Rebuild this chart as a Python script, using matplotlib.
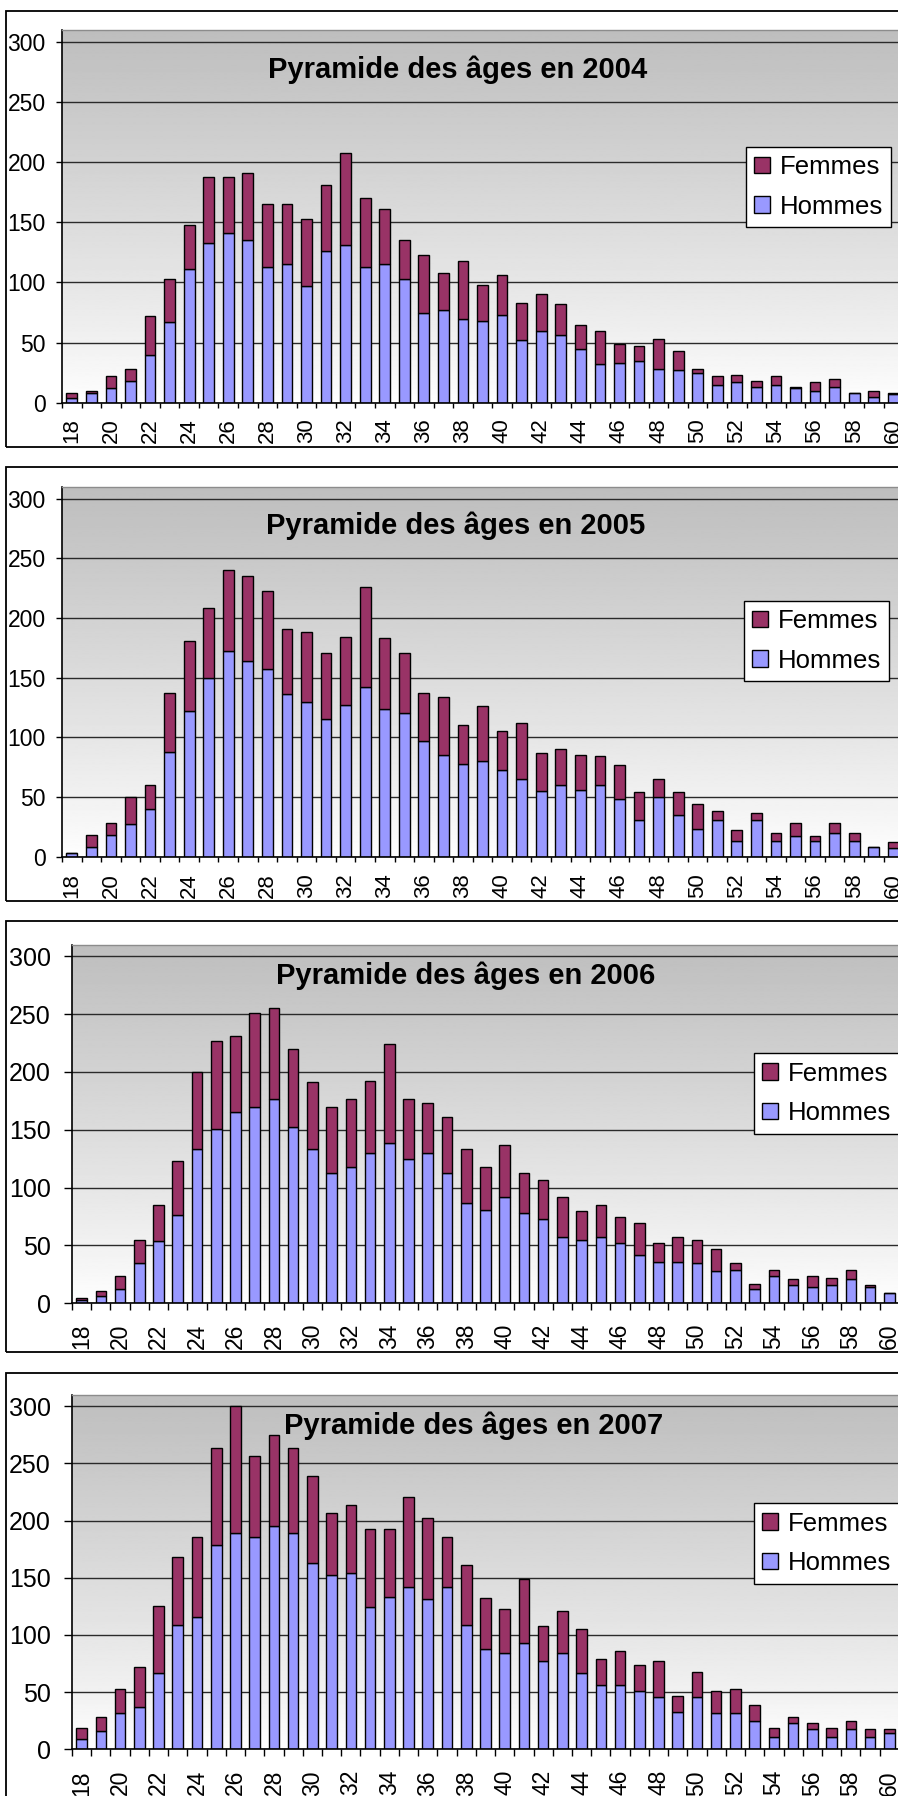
import matplotlib
matplotlib.use('Agg')
import matplotlib.pyplot as plt
import numpy as np
from matplotlib.patches import Rectangle

# ---------------- data ----------------
ages = list(range(18, 61))

hommes_2004 = [4, 8, 12, 18, 40, 67, 111, 133, 141, 135, 113, 115, 97, 126, 131,
               113, 115, 103, 75, 77, 70, 68, 73, 52, 60, 56, 45, 32, 33, 35,
               28, 27, 25, 15, 17, 13, 15, 12, 10, 13, 8, 5, 7]
femmes_2004 = [4, 2, 10, 10, 32, 36, 37, 55, 47, 56, 52, 50, 56, 55, 77,
               57, 46, 32, 48, 31, 48, 30, 33, 31, 30, 26, 20, 28, 16, 12,
               25, 16, 3, 7, 6, 5, 7, 1, 7, 7, 0, 5, 1]

hommes_2005 = [3, 8, 18, 27, 40, 88, 122, 150, 172, 164, 157, 136, 130, 115, 127,
               142, 124, 120, 97, 85, 78, 80, 73, 65, 55, 60, 56, 60, 48, 31,
               50, 35, 23, 31, 13, 31, 13, 17, 13, 20, 13, 8, 7]
femmes_2005 = [0, 10, 10, 23, 20, 49, 59, 58, 68, 71, 66, 55, 58, 56, 57,
               84, 59, 51, 40, 49, 32, 46, 32, 47, 32, 30, 29, 24, 29, 23,
               15, 19, 21, 7, 9, 6, 7, 11, 4, 8, 7, 0, 5]

hommes_2006 = [3, 6, 12, 35, 54, 76, 133, 151, 165, 170, 177, 152, 133, 113, 118,
               130, 139, 125, 130, 113, 87, 81, 92, 78, 73, 57, 55, 57, 52, 42,
               36, 36, 35, 28, 29, 12, 24, 16, 14, 16, 21, 14, 9]
femmes_2006 = [2, 5, 12, 20, 31, 47, 67, 76, 66, 81, 78, 68, 58, 57, 59,
               62, 85, 52, 43, 48, 46, 37, 45, 35, 34, 35, 25, 28, 23, 27,
               16, 21, 20, 19, 6, 5, 5, 5, 10, 6, 8, 2, 0]

hommes_2007 = [9, 16, 32, 37, 67, 109, 116, 179, 189, 186, 195, 189, 163, 152, 154,
               124, 133, 142, 131, 142, 109, 88, 84, 93, 77, 84, 67, 56, 56, 51,
               46, 33, 46, 32, 32, 25, 11, 23, 18, 11, 18, 11, 14]
femmes_2007 = [10, 12, 21, 35, 58, 59, 70, 84, 111, 70, 80, 74, 76, 55, 60,
               69, 60, 79, 71, 44, 52, 44, 39, 56, 31, 37, 38, 23, 30, 23,
               31, 14, 22, 19, 21, 14, 8, 5, 5, 8, 7, 7, 4]

years = [2004, 2005, 2006, 2007]
hommes_all = [hommes_2004, hommes_2005, hommes_2006, hommes_2007]
femmes_all = [femmes_2004, femmes_2005, femmes_2006, femmes_2007]
yticks = [0, 50, 100, 150, 200, 250, 300]

# ---------------- style / layout ----------------
plt.rcParams['font.family'] = ['Liberation Sans', 'DejaVu Sans']

W, H = 898, 1796
fig = plt.figure(figsize=(W / 100, H / 100), dpi=100)

C_H = '#9999FF'
C_F = '#993366'

layout = [
    dict(bt=11, bb=446.7, left=62, top=30, zero=402.7, dx=19.56,
         xfs=16, yfs=16.5, ytl=5.7, xtl=4.7, ypad=10.6, xpad=10.5,
         title=(458, 70), leg=(746, 146.7)),
    dict(bt=466.7, bb=901, left=62, top=486.7, zero=856.7, dx=19.56,
         xfs=16, yfs=16.5, ytl=5.7, xtl=4.7, ypad=10.6, xpad=11.5,
         title=(456, 526), leg=(744, 600.7)),
    dict(bt=921, bb=1352.3, left=72, top=944.7, zero=1303.3, dx=19.23,
         xfs=16.5, yfs=18, ytl=8.3, xtl=6.7, ypad=13.0, xpad=14.0,
         title=(466, 976), leg=(754, 1053.3)),
    dict(bt=1373.3, bb=1830, left=72, top=1394.7, zero=1749.3, dx=19.23,
         xfs=16.5, yfs=18, ytl=8.3, xtl=6.7, ypad=13.0, xpad=14.0,
         title=(474, 1426), leg=(754, 1503.3)),
]

YMAX = 310
px = 0.72  # points per pixel at 100 dpi

for year, hom, fem, L in zip(years, hommes_all, femmes_all, layout):
    # outer chart border
    fig.patches.append(Rectangle((6 / W, 1 - L['bb'] / H), (W + 20) / W,
                                 (L['bb'] - L['bt']) / H, transform=fig.transFigure,
                                 fill=False, ec='black', lw=1.3, zorder=0))

    ax = fig.add_axes([L['left'] / W, 1 - L['zero'] / H, (W - L['left'] + 30) / W,
                       (L['zero'] - L['top']) / H])
    x0 = 17.5
    x1 = x0 + (W - L['left'] + 30) / L['dx']
    ax.set_xlim(x0, x1)
    ax.set_ylim(0, YMAX)

    # gradient background (white at the bottom, grey at the top)
    f = np.linspace(0.0, 1.0, 256)
    grad = (1.0 - 0.255 * f ** 0.85).reshape(-1, 1)
    ax.imshow(grad, extent=(x0, x1, 0, YMAX), origin='lower', aspect='auto',
              cmap='gray', vmin=0, vmax=1, zorder=0, interpolation='bilinear')

    ax.set_axisbelow(True)
    ax.yaxis.grid(True, color='#2a2a2a', lw=1.0)

    bh = ax.bar(ages, hom, width=0.55, color=C_H, edgecolor='black', lw=1.0, zorder=2)
    bf = ax.bar(ages, fem, width=0.55, bottom=hom, color=C_F, edgecolor='black',
                lw=1.0, zorder=2)

    # spines
    ax.spines['right'].set_visible(False)
    ax.spines['top'].set_color('#8c8c8c')
    ax.spines['top'].set_linewidth(1.0)
    ax.spines['left'].set_linewidth(1.2)
    ax.spines['bottom'].set_linewidth(1.2)

    # y ticks
    ax.set_yticks(yticks)
    ax.tick_params(axis='y', direction='out', length=L['ytl'] * px, width=1.0,
                   labelsize=L['yfs'], pad=L['ypad'] * px, colors='black')

    # x ticks: minor marks between categories, labels every two ages
    ax.set_xticks(np.arange(17.5, 62, 1.0), minor=True)
    ax.set_xticks(ages[::2])
    ax.set_xticklabels([str(a) for a in ages[::2]], rotation=90)
    ax.tick_params(axis='x', which='minor', direction='out', length=L['xtl'] * px,
                   width=1.0)
    ax.tick_params(axis='x', which='major', length=0, labelsize=L['xfs'],
                   pad=(L['xtl'] + L['xpad']) * px)

    # title
    fig.text(L['title'][0] / W, 1 - L['title'][1] / H,
             'Pyramide des âges en %d' % year, ha='center', va='center',
             fontsize=21, fontweight='bold')

    # legend
    leg = ax.legend([bf, bh], ['Femmes', 'Hommes'], loc='upper left',
                    bbox_to_anchor=(L['leg'][0] / W, 1 - L['leg'][1] / H),
                    bbox_transform=fig.transFigure, borderaxespad=0,
                    frameon=True, fancybox=False, framealpha=1, edgecolor='black',
                    fontsize=18.5, handlelength=0.62, handleheight=0.62,
                    handletextpad=0.35, labelspacing=0.6, borderpad=0.33)
    leg.get_frame().set_linewidth(1.0)

fig.savefig('out.png', dpi=100)
